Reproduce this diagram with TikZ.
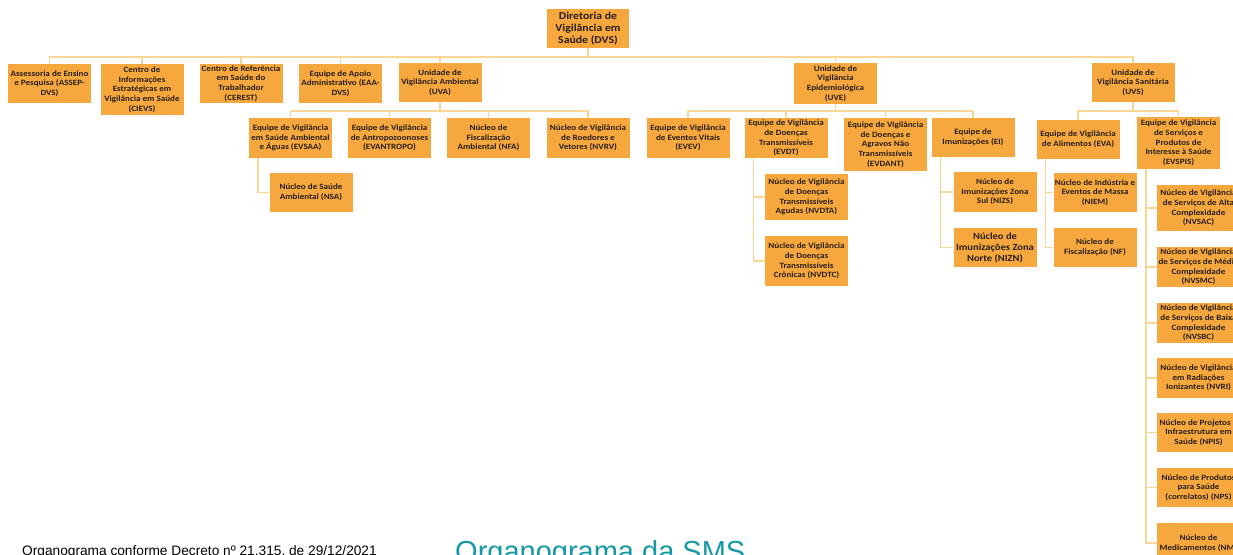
\documentclass[tikz,border=0pt]{standalone}
\usepackage{fontspec}
\setmainfont{Liberation Sans}
\newfontfamily\boxfont{Carlito}[FakeStretch=1.12]
\definecolor{boxorange}{RGB}{246,168,62}
\definecolor{linkorange}{RGB}{250,214,148}
\definecolor{boxtext}{RGB}{40,30,20}
\definecolor{smsteal}{RGB}{22,152,166}

\begin{document}
\begin{tikzpicture}[x=1pt, y=-1pt,
  unit/.style={rectangle, fill=boxorange, text=boxtext, align=center,
    font=\boxfont\bfseries\fontsize{8.1}{9.7}\selectfont,
    minimum width=83pt, minimum height=40pt, inner xsep=1pt, inner ysep=1pt},
  bigunit/.style={unit, font=\boxfont\bfseries\fontsize{10.5}{11.8}\selectfont},
  link/.style={draw=linkorange, line width=1.6pt},
  caption/.style={anchor=base west, inner sep=0pt}
]
\useasboundingbox (0,0) rectangle (1233,554);
\clip (0,0) rectangle (1233,554);

% Top: directorate
\node[bigunit, minimum width=82pt, minimum height=39pt] (dvs) at (588,28.5) {Diretoria de\\Vigilância em\\Saúde (DVS)};

% First level
\node[unit, minimum height=39pt] (assep) at (49.5,83.5) {Assessoria de Ensino\\e Pesquisa (ASSEP-\\DVS)};
\node[unit, minimum height=51pt] (cievs) at (142,89.5) {Centro de\\Informações\\Estratégicas em\\Vigilância em Saúde\\(CIEVS)};
\node[unit, minimum height=39pt] (cerest) at (241,83.5) {Centro de Referência\\em Saúde do\\Trabalhador\\(CEREST)};
\node[unit, minimum height=39pt] (eaa) at (340.5,83.5) {Equipe de Apoio\\Administrativo (EAA-\\DVS)};
\node[unit, minimum height=39pt] (uva) at (440,82.5) {Unidade de\\Vigilância Ambiental\\(UVA)};
\node[unit, minimum height=41pt] (uve) at (835.5,83.5) {Unidade de\\Vigilância\\Epidemiológica\\(UVE)};
\node[unit, minimum height=39pt] (uvs) at (1133,82.5) {Unidade de\\Vigilância Sanitária\\(UVS)};

% Second level: UVA
\node[unit] (evsaa) at (290.5,138) {Equipe de Vigilância\\em Saúde Ambiental\\e Águas (EVSAA)};
\node[unit] (evantropo) at (389.5,138) {Equipe de Vigilância\\de Antropozoonoses\\(EVANTROPO)};
\node[unit] (nfa) at (488.5,138) {Núcleo de\\Fiscalização\\Ambiental (NFA)};
\node[unit] (nvrv) at (588,138) {Núcleo de Vigilância\\de Roedores e\\Vetores (NVRV)};

% Second level: UVE
\node[unit] (evev) at (688,138) {Equipe de Vigilância\\de Eventos Vitais\\(EVEV)};
\node[unit] (evdt) at (786,138) {Equipe de Vigilância\\de Doenças\\Transmissíveis\\(EVDT)};
\node[unit, minimum height=53pt] (evdant) at (885.5,144.5) {Equipe de Vigilância\\de Doenças e\\Agravos Não\\Transmissíveis\\(EVDANT)};
\node[unit, minimum height=39pt] (ei) at (973,137.5) {Equipe de\\Imunizações (EI)};

% Second level: UVS
\node[unit, minimum height=39pt] (eva) at (1078,139.5) {Equipe de Vigilância\\de Alimentos (EVA)};
\node[unit, minimum height=52pt] (evspis) at (1178.5,143) {Equipe de Vigilância\\de Serviços e\\Produtos de\\Interesse à Saúde\\(EVSPIS)};

% Third level
\node[unit, minimum height=39pt] (nsa) at (311,192.5) {Núcleo de Saúde\\Ambiental (NSA)};
\node[unit, minimum height=46pt] (nvdta) at (806.5,197) {Núcleo de Vigilância\\de Doenças\\Transmissíveis\\Agudas (NVDTA)};
\node[unit, minimum height=50pt] (nvdtc) at (806.5,261) {Núcleo de Vigilância\\de Doenças\\Transmissíveis\\Crônicas (NVDTC)};
\node[unit] (nizs) at (995,192) {Núcleo de\\Imunizações Zona\\Sul (NIZS)};
\node[unit, minimum height=39pt, font=\boxfont\bfseries\fontsize{9.4}{11}\selectfont] (nizn) at (995,247.5) {Núcleo de\\Imunizações Zona\\Norte (NIZN)};
\node[unit, minimum height=39pt] (niem) at (1095,192.5) {Núcleo de Indústria e\\Eventos de Massa\\(NIEM)};
\node[unit, minimum height=39pt] (nf) at (1095,247.5) {Núcleo de\\Fiscalização (NF)};
\node[unit, minimum height=46pt] (nvsac) at (1198.5,208) {Núcleo de Vigilância\\de Serviços de Alta\\Complexidade\\(NVSAC)};
\node[unit] (nvsmc) at (1198.5,267) {Núcleo de Vigilância\\de Serviços de Média\\Complexidade\\(NVSMC)};
\node[unit] (nvsbc) at (1198.5,323) {Núcleo de Vigilância\\de Serviços de Baixa\\Complexidade\\(NVSBC)};
\node[unit] (nvri) at (1198.5,378) {Núcleo de Vigilância\\em Radiações\\Ionizantes (NVRI)};
\node[unit, minimum height=39pt] (npis) at (1198.5,432.5) {Núcleo de Projetos e\\Infraestrutura em\\Saúde (NPIS)};
\node[unit, minimum height=39pt] (nps) at (1198.5,487.5) {Núcleo de Produtos\\para Saúde\\(correlatos) (NPS)};
\node[unit] (nm) at (1198.5,543) {Núcleo de\\Medicamentos (NM)};

% Buses
\foreach \c in {assep,cievs,cerest,eaa,uva,uve,uvs}
  \draw[link] (dvs.south) -- ++(0,9) -| (\c.north);
\foreach \c in {evsaa,evantropo,nfa,nvrv}
  \draw[link] (uva.south) -- ++(0,9) -| (\c.north);
\foreach \c in {evev,evdt,evdant,ei}
  \draw[link] (uve.south) -- ++(0,7) -| (\c.north);
\foreach \c in {eva,evspis}
  \draw[link] (uvs.south) -- ++(0,9) -| (\c.north);

% Side lines
\draw[link] ([xshift=9pt]evsaa.south west) |- (nsa.west);
\foreach \c in {nvdta,nvdtc}
  \draw[link] ([xshift=9pt]evdt.south west) |- (\c.west);
\foreach \c in {nizs,nizn}
  \draw[link] ([xshift=9pt]ei.south west) |- (\c.west);
\foreach \c in {niem,nf}
  \draw[link] ([xshift=9pt]eva.south west) |- (\c.west);
\foreach \c in {nvsac,nvsmc,nvsbc,nvri,npis,nps,nm}
  \draw[link] ([xshift=9pt]evspis.south west) |- (\c.west);

% Captions
\node[caption, font=\fontsize{13.7}{16}\selectfont] (decreto) at (22,555) {Organograma conforme Decreto nº 21.315, de 29/12/2021};
\node[caption, text=smsteal, font=\fontsize{29}{34}\selectfont] (titulo) at (455,561) {Organograma da SMS};

\end{tikzpicture}
\end{document}
